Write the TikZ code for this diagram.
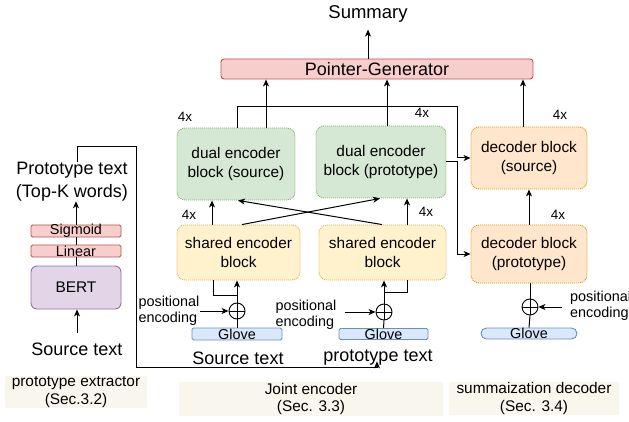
\documentclass[tikz,border=0pt]{standalone}
\usepackage{fontspec}
\setmainfont{Liberation Sans}
\usetikzlibrary{arrows.meta,calc}
\definecolor{gfill}{HTML}{D5E8D4}\definecolor{gborder}{HTML}{82B366}
\definecolor{yfill}{HTML}{FFF2CC}\definecolor{yborder}{HTML}{D6B656}
\definecolor{ofill}{HTML}{FFE6CC}\definecolor{oborder}{HTML}{D79B00}
\definecolor{rfill}{HTML}{F8CECC}\definecolor{rborder}{HTML}{B85450}
\definecolor{pfill}{HTML}{E1D5E7}\definecolor{pborder}{HTML}{9673A6}
\definecolor{bfill}{HTML}{DAE8FC}\definecolor{bborder}{HTML}{6C8EBF}
\definecolor{secfill}{HTML}{F9F7ED}
\begin{document}
\begin{tikzpicture}[x=1pt,y=-1pt,
  arr/.style={-{Stealth[length=7pt,width=6pt,inset=2pt]}, line width=1pt},
  ln/.style={line width=1pt},
  blk/.style={rounded corners=8pt, align=center, inner sep=0pt, line width=0.9pt, dash pattern=on 1pt off 1pt, font=\fontsize{15.4}{18.5}\selectfont},
  dualb/.style={blk, draw=gborder, fill=gfill},
  shb/.style={blk, draw=yborder, fill=yfill},
  decb/.style={blk, draw=oborder, fill=ofill},
  thinbox/.style={draw, line width=0.9pt, inner sep=0pt, rounded corners=1.5pt},
  redb/.style={thinbox, draw=rborder, fill=rfill},
  glb/.style={thinbox, draw=bborder, fill=bfill},
  lbl/.style={font=\fontsize{14.4}{15.5}\selectfont, inner sep=0pt},
  big/.style={font=\fontsize{18}{23}\selectfont, inner sep=0pt},
  cnt/.style={font=\fontsize{13.5}{15}\selectfont, inner sep=0pt},
  sec/.style={fill=secfill, align=center, inner sep=0pt, font=\fontsize{15.4}{17.5}\selectfont},
  oplus/.style={circle, draw, line width=0.9pt, minimum size=16pt, inner sep=0pt,
    path picture={\draw[line width=0.9pt] (path picture bounding box.north) -- (path picture bounding box.south) (path picture bounding box.west) -- (path picture bounding box.east);}}
]
\path[use as bounding box] (0,0) rectangle (629,422);

% top
\node[redb, rounded corners=3pt, minimum width=312pt, minimum height=20pt, font=\fontsize{18}{20}\selectfont] (pg) at (377,69) {Pointer-Generator};
\node[big, font=\fontsize{18.5}{22}\selectfont] (sum) at (368,14) {Summary};

% encoder blocks
\node[dualb, minimum width=118pt, minimum height=72pt] (ds) at (236,164) {dual encoder\\block (source)};
\node[dualb, minimum width=130pt, minimum height=72pt] (dp) at (381,162) {dual encoder\\block (prototype)};
\node[shb, minimum width=123pt, minimum height=55pt] (ss) at (238.5,252.5) {shared encoder\\block};
\node[shb, minimum width=127pt, minimum height=55pt] (sp) at (382.5,252.5) {shared encoder\\block};
\node[decb, minimum width=116pt, minimum height=62pt] (dcs) at (529,158) {decoder block\\(source)};
\node[decb, minimum width=116pt, minimum height=58pt] (dcp) at (529,254) {decoder block\\(prototype)};

% 4x labels
\node[cnt] (k1) at (185,117) {4x};
\node[cnt] (k2) at (422,113) {4x};
\node[cnt] (k3) at (189,215) {4x};
\node[cnt] (k4) at (426,212) {4x};
\node[cnt] (k5) at (560,115) {4x};
\node[cnt] (k6) at (558,215) {4x};

% oplus
\node[oplus] (os) at (237,311) {};
\node[oplus] (op) at (384,312) {};
\node[oplus] (od) at (530,307) {};

% glove
\node[glb, minimum width=90pt, minimum height=12pt] (gs) at (237,334) {};
\node[lbl] (gst) at (gs) {Glove};
\node[glb, minimum width=89pt, minimum height=11pt] (gp) at (383.5,334) {};
\node[lbl] (gpt) at (gp) {Glove};
\node[glb, minimum width=96pt, minimum height=11pt, rounded corners=5.5pt] (gd) at (529,333.5) {};
\node[lbl] (gdt) at (gd) {Glove};

% positional encoding
\node[lbl, align=left] (pes) at (169,311) {positional\\encoding};
\node[lbl, align=left] (pep) at (306,315) {positional\\encoding};
\node[lbl, align=left, anchor=west] (ped) at (570,306) {positional\\encoding};
\coordinate (pepx) at (345,312);

% texts
\node[big] (ssrc) at (238,358) {Source text};
\node[big] (ptt) at (378,357.5) {prototype text};

% left part
\node[redb, minimum width=90pt, minimum height=12pt] (sig) at (76,231) {};
\node[lbl] (sigt) at (sig) {Sigmoid};
\node[redb, minimum width=90pt, minimum height=12pt] (lin) at (76,251) {};
\node[lbl] (lint) at (lin) {Linear};
\node[draw=pborder, fill=pfill, rounded corners=6pt, line width=0.9pt, minimum width=90pt, minimum height=43pt, inner sep=0pt, font=\fontsize{15.4}{18}\selectfont] (bert) at (76,287.5) {BERT};
\node[big, align=center] (ptx) at (72,181.5) {Prototype text\\(Top-K words)};
\node[big] (src) at (77,349) {Source text};

% section labels
\node[sec, minimum width=142pt, minimum height=32pt] (s1) at (76,392) {prototype extractor\\(Sec.3.2)};
\node[sec, minimum width=264pt, minimum height=34pt] (s2) at (311,399) {Joint encoder\\(Sec. 3.3)};
\node[sec, minimum width=170pt, minimum height=33pt] (s3) at (534,398.5) {summaization decoder\\(Sec. 3.4)};

% connectors top
\draw[arr, shorten >=7pt] (pg.north -| sum.south) -- (sum.south);
\draw[arr] ([xshift=30]ds.north) -- ([xshift=30]ds.north |- pg.south);
\draw[arr] ([xshift=6]dp.north) -- ([xshift=6]dp.north |- pg.south);
\draw[arr] ([xshift=-6]dcs.north) -- ([xshift=-6]dcs.north |- pg.south);

\coordinate (j1) at (457,107);
\coordinate (j2) at (457,162);
\draw[arr] ([xshift=1]ds.north) |- (j1) |- (dcs.west);
\draw[arr] (dp.east) -- (dp.east -| j2) |- (dcp.west);

% cross
\draw[arr] ([xshift=3.5]ss.north) -- ([xshift=-1]dp.south);
\draw[arr] ([xshift=-0.5]sp.north) -- ([xshift=2]ds.south);
\draw[arr] ([xshift=-26.5]ss.north) -- ([xshift=-26.5]ss.north |- ds.south);
\draw[arr] ([xshift=24.5]sp.north) -- ([xshift=24.5]sp.north |- dp.south);

% bottom inputs
\draw[ln] (gs.north) -- (os.south);
\draw[arr] (os.north) -- (os.north |- ss.south);
\draw[ln] ([xshift=-25.5]ss.south) -- ++(0,15) -- ++(24,0);
\draw[ln] (gp.north) -- (op.south);
\draw[arr] (op.north) -- (op.north |- sp.south);
\draw[ln] ([xshift=24.5]sp.south) -- ++(0,12) -- ++(-23,0);
\draw[ln] (gd.north) -- (od.south);
\draw[ln] (od.north) -- (od.north |- dcp.south);
\draw[arr] (dcp.north) -- (dcs.south);

\draw[arr] (pes.east |- os.west) -- (os.west);
\draw[arr] (pepx) -- (op.west);
\draw[arr, shorten <=8pt] (ped.west |- od.east) -- (od.east);

% left connectors
\draw[arr, shorten <=9pt] (src.north) -- (src.north |- bert.south);
\draw[ln] (bert.north) -- (lin.south);
\draw[ln] (lin.north) -- (sig.south);
\draw[arr] (sig.north) -- (sig.north |- ptx.south);

\coordinate (c1) at (136,147);
\coordinate (c2) at (377,367);
\draw[arr] ([xshift=5]ptx.north) |- (c1) |- (c2) -- ($(c2 |- ptt.south)+(0,-4)$);
\end{tikzpicture}
\end{document}
